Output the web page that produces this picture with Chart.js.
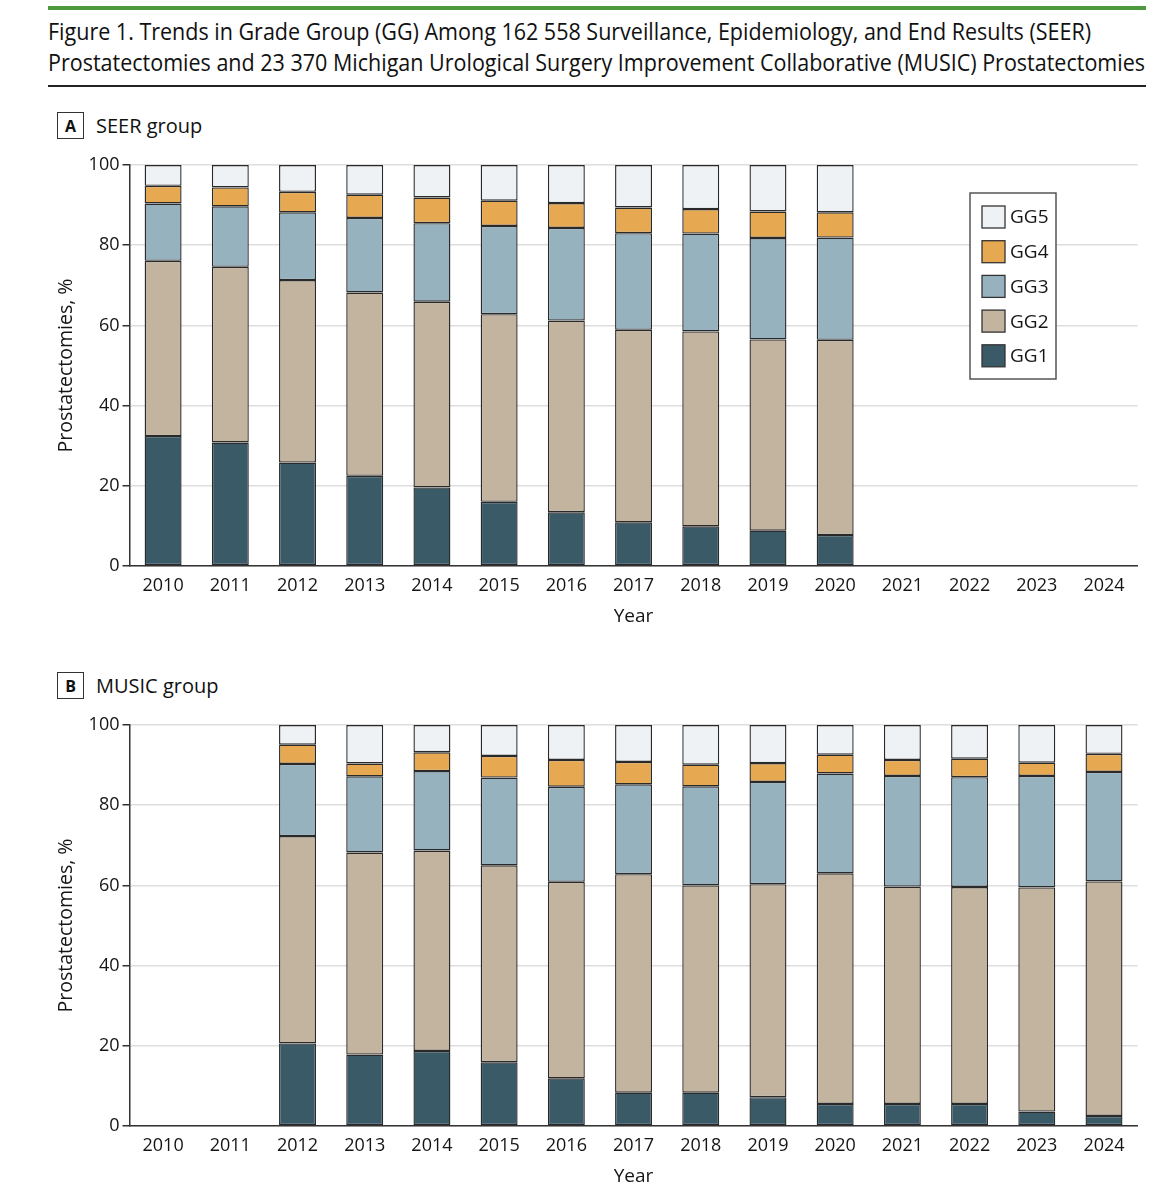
<!DOCTYPE html>
<html>
<head>
<meta charset="utf-8">
<script src="https://cdn.jsdelivr.net/npm/chart.js@4.4.1/dist/chart.umd.min.js"></script>
<style>
html, body { margin: 0; padding: 0; background: #fff; overflow: hidden; }
body { width: 1171px; height: 1200px; position: relative; font-family: "Open Sans", sans-serif; color: #111; }
.rule-green { position: absolute; left: 48px; top: 6px; width: 1098px; height: 4px; background: #4b9a3d; }
.title { position: absolute; left: 48px; font-size: 24px; line-height: 30px; white-space: nowrap; transform-origin: 0 50%; }
.rule { position: absolute; left: 48px; top: 85px; width: 1098px; height: 2px; background: #222; }
.panel { position: absolute; left: 57px; height: 27px; display: flex; align-items: center; }
.panel .box { width: 27px; height: 27px; box-sizing: border-box; border: 1.5px solid #333; font-weight: bold; font-size: 16px; display: flex; align-items: center; justify-content: center; }
.panel .lbl { margin-left: 12px; font-size: 20px; }
canvas { position: absolute; left: 0; }
</style>
</head>
<body>
<div class="rule-green"></div>
<div class="title" id="t1" style="top:16px">Figure 1. Trends in Grade Group (GG) Among 162 558 Surveillance, Epidemiology, and End Results (SEER)</div>
<div class="title" id="t2" style="top:47px">Prostatectomies and 23 370 Michigan Urological Surgery Improvement Collaborative (MUSIC) Prostatectomies</div>
<div class="rule"></div>

<div class="panel" style="top:112px"><div class="box">A</div><div class="lbl">SEER group</div></div>
<canvas id="seerChart" width="1171" height="485" style="top:150px"></canvas>

<div class="panel" style="top:672px"><div class="box">B</div><div class="lbl">MUSIC group</div></div>
<canvas id="musicChart" width="1171" height="485" style="top:710px"></canvas>

<script>
// stretch the title lines to the width of the rule
const t2 = document.getElementById('t2');
const k = 1097 / t2.getBoundingClientRect().width;
document.getElementById('t1').style.transform = 'scaleX(' + k + ')';
t2.style.transform = 'scaleX(' + k + ')';

const years = ['2010', '2011', '2012', '2013', '2014', '2015', '2016', '2017', '2018', '2019', '2020', '2021', '2022', '2023', '2024'];
const grades = ['GG1', 'GG2', 'GG3', 'GG4', 'GG5'];

// SEER, % of prostatectomies per grade group
const seerGG1 = [32.4, 30.8, 25.8, 22.5, 19.6, 16.0, 13.4, 10.9, 9.9, 8.8, 7.7, null, null, null, null];
const seerGG2 = [43.7, 43.8, 45.5, 45.7, 46.3, 46.8, 47.8, 48.0, 48.6, 47.7, 48.7, null, null, null, null];
const seerGG3 = [14.3, 15.1, 16.9, 18.6, 19.6, 22.0, 23.1, 24.1, 24.4, 25.3, 25.5, null, null, null, null];
const seerGG4 = [4.4, 4.7, 5.1, 5.8, 6.4, 6.3, 6.2, 6.4, 6.1, 6.6, 6.3, null, null, null, null];
const seerGG5 = [5.2, 5.6, 6.7, 7.4, 8.1, 8.9, 9.5, 10.6, 11.0, 11.6, 11.8, null, null, null, null];

// MUSIC, % of prostatectomies per grade group
const musicGG1 = [null, null, 20.6, 17.8, 18.7, 15.9, 11.9, 8.3, 8.3, 7.2, 5.5, 5.5, 5.5, 3.6, 2.5];
const musicGG2 = [null, null, 51.7, 50.4, 50.0, 49.1, 49.0, 54.5, 51.7, 53.1, 57.5, 54.2, 54.1, 55.9, 58.5];
const musicGG3 = [null, null, 18.0, 19.0, 19.8, 21.9, 23.7, 22.4, 24.7, 25.5, 24.9, 27.6, 27.4, 27.8, 27.3];
const musicGG4 = [null, null, 4.8, 3.2, 4.7, 5.4, 6.7, 5.6, 5.4, 4.7, 4.7, 4.0, 4.6, 3.3, 4.5];
const musicGG5 = [null, null, 4.9, 9.6, 6.8, 7.7, 8.7, 9.2, 9.9, 9.5, 7.4, 8.7, 8.4, 9.4, 7.2];

const colors = ['#3b5a68', '#c2b49f', '#97b2bf', '#e6a952', '#eef2f5'];
const ink = '#151515';
const font = { family: 'Open Sans', size: 18 };

// legend drawn inside the SEER plot
const legendBox = {
    id: 'legendBox',
    afterDraw(chart) {
        const ctx = chart.ctx;
        const x = 970, y = 43, w = 86, h = 186;
        ctx.save();
        ctx.fillStyle = '#fff';
        ctx.fillRect(x, y, w, h);
        ctx.strokeStyle = '#555';
        ctx.lineWidth = 1.5;
        ctx.strokeRect(x, y, w, h);
        ctx.font = '19px "Open Sans"';
        ctx.textBaseline = 'middle';
        const sets = chart.data.datasets.slice().reverse();
        sets.forEach((ds, i) => {
            const cy = y + 24 + i * 34.7;
            ctx.fillStyle = ds.backgroundColor;
            ctx.fillRect(x + 12, cy - 11, 23, 22);
            ctx.strokeStyle = '#333';
            ctx.lineWidth = 1.3;
            ctx.strokeRect(x + 12, cy - 11, 23, 22);
            ctx.fillStyle = ink;
            ctx.fillText(ds.label, x + 40, cy + 1);
        });
        ctx.restore();
    }
};

function makeChart(id, series, extraPlugins) {
    return new Chart(document.getElementById(id), {
        type: 'bar',
        data: {
            labels: years,
            datasets: grades.map((g, i) => ({
                label: g,
                data: series[i],
                backgroundColor: colors[i],
                borderColor: '#2a2a2a',
                borderWidth: 1.4,
                borderSkipped: false,
                barPercentage: 0.55,
                categoryPercentage: 1
            }))
        },
        plugins: extraPlugins,
        options: {
            responsive: false,
            animation: false,
            layout: { padding: { top: 15, right: 33.4, bottom: 0, left: 0 } },
            plugins: {
                legend: { display: false },
                tooltip: { enabled: false }
            },
            scales: {
                x: {
                    stacked: true,
                    grid: { display: true, color: 'transparent', drawTicks: false },
                    border: { color: '#333', width: 1.5 },
                    ticks: { color: ink, font: font, padding: 9, maxRotation: 0, autoSkip: false },
                    title: { display: true, text: 'Year', color: ink, font: { family: 'Open Sans', size: 19 }, padding: { top: 0, bottom: 7 } },
                    afterFit: s => { s.height = 69; }
                },
                y: {
                    stacked: true,
                    min: 0,
                    max: 100,
                    ticks: { stepSize: 20, color: ink, font: font, padding: 3 },
                    grid: { color: '#dedede', lineWidth: 1.5, tickColor: '#333', tickLength: 7 },
                    border: { color: '#333', width: 1.5 },
                    title: { display: true, text: 'Prostatectomies, %', color: ink, font: { family: 'Open Sans', size: 19.5 }, padding: { top: 55, bottom: 0 } },
                    afterFit: s => { s.width = 129.5; }
                }
            }
        }
    });
}

makeChart('seerChart', [seerGG1, seerGG2, seerGG3, seerGG4, seerGG5], [legendBox]);
makeChart('musicChart', [musicGG1, musicGG2, musicGG3, musicGG4, musicGG5], []);
</script>
</body>
</html>
